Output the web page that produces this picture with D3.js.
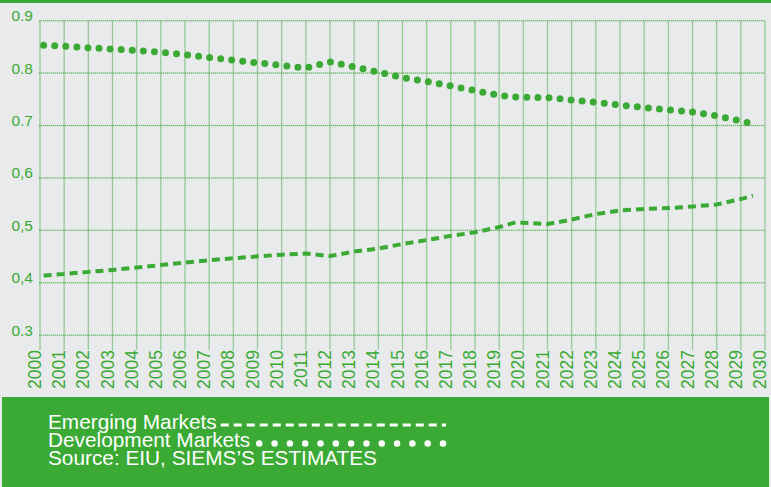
<!DOCTYPE html>
<html>
<head>
<meta charset="utf-8">
<script src="https://cdn.jsdelivr.net/npm/d3@7/dist/d3.min.js"></script>
<style>
  html, body { margin: 0; padding: 0; background: #e9eaec; }
  svg { display: block; }
  text { font-family: "Liberation Sans", Arial, Helvetica, sans-serif; }
</style>
</head>
<body>
<div id="chart"></div>
<script>
// ---- Data ----
const yearTicks = [2000,2001,2002,2003,2004,2005,2006,2007,2008,2009,2010,2011,2012,2013,2014,2015,
                   2016,2017,2018,2019,2020,2021,2022,2023,2024,2025,2026,2027,2028,2029,2030];
const yearTickLabels = ["2000","2001","2002","2003","2004","2005","2006","2007","2008","2009","2010",
                   "2011","2012","2013","2014","2015","2016","2017","2018","2019","2020","2021","2022",
                   "2023","2024","2025","2026","2027","2028","2029","2030"];
const yTickValues = [0.3, 0.4, 0.5, 0.6, 0.7, 0.8, 0.9];
const yTickLabels = ["0.3", "0,4", "0,5", "0,6", "0.7", "0.8", "0.9"];

// x positions of the series points (years)
const seriesYears = [2000.15,2001,2002,2003,2004,2005,2006,2007,2008,2009,2010,2011,2012,2013,2014,2015,
                     2016,2017,2018,2019,2019.7,2020,2021,2022,2023,2024,2025,2026,2027,2028,2029,2029.5];
const emergingMarkets = [0.414,0.4166,0.4208,0.4244,0.429,0.4338,0.4384,0.443,0.4468,0.4504,0.4536,
                         0.4557,0.451,0.4595,0.4653,0.4739,0.4815,0.4895,0.4962,0.5063,0.5155,0.5143,
                         0.512,0.5206,0.5311,0.5378,0.5407,0.5426,0.5454,0.5493,0.5597,0.5664];
const developmentMarkets = [0.853,0.8517,0.8483,0.846,0.843,0.840,0.835,0.830,0.8244,0.8197,0.8145,
                         0.8097,0.8212,0.8116,0.802,0.7916,0.7843,0.7754,0.7668,0.7573,0.7545,0.754,
                         0.7534,0.7487,0.7443,0.7391,0.7344,0.730,0.7258,0.7183,0.7086,0.7029];

const legendLabels = ["Emerging Markets", "Development Markets"];
const sourceText = "Source: EIU, SIEMS\u2019S ESTIMATES";

// ---- Drawing ----
const W = 771, H = 487;
const green = "#3aaa35";
const svg = d3.select("#chart").append("svg").attr("width", W).attr("height", H);

svg.append("rect").attr("width", W).attr("height", H).attr("fill", "#e9eaec");
svg.append("rect").attr("x", 0).attr("y", 0).attr("width", W).attr("height", 3).attr("fill", green);

const x = d3.scaleLinear().domain([2000, 2030]).range([40, 765]);
const y = d3.scaleLinear().domain([0.3, 0.9]).range([335.2, 20.7]);

// grid
const grid = svg.append("g");
yTickValues.forEach(v => {
  grid.append("line").attr("x1", x(2000) - 1).attr("x2", x(2030))
    .attr("y1", y(v)).attr("y2", y(v))
    .attr("stroke", green).attr("stroke-opacity", 0.22).attr("stroke-width", 1.5);
  grid.append("line").attr("x1", x(2000) - 1).attr("x2", x(2030))
    .attr("y1", y(v)).attr("y2", y(v))
    .attr("stroke", green).attr("stroke-opacity", 0.75).attr("stroke-width", 1).attr("stroke-dasharray", "1,1");
});
yearTicks.forEach(t => {
  grid.append("line").attr("x1", x(t)).attr("x2", x(t))
    .attr("y1", y(0.9)).attr("y2", 350)
    .attr("stroke", green).attr("stroke-opacity", 0.22).attr("stroke-width", 1.5);
  grid.append("line").attr("x1", x(t)).attr("x2", x(t))
    .attr("y1", y(0.9)).attr("y2", 350)
    .attr("stroke", green).attr("stroke-opacity", 0.7).attr("stroke-width", 1).attr("stroke-dasharray", "1,1");
});

// y labels
svg.append("g").selectAll("text").data(yTickValues).join("text")
  .attr("x", 33).attr("y", d => y(d) + 0.5)
  .attr("text-anchor", "end")
  .attr("fill", green).attr("font-size", "15.5px")
  .text((d, i) => yTickLabels[i]);

// x labels (rotated)
svg.append("g").selectAll("text").data(yearTicks).join("text")
  .attr("transform", d => `translate(${x(d) + 1},350) rotate(-90)`)
  .attr("text-anchor", "end")
  .attr("fill", green).attr("font-size", "17.5px")
  .text((d, i) => yearTickLabels[i]);

// lines
const line = vals => d3.line()
  .x((d, i) => x(seriesYears[i]))
  .y(d => y(d))
  .curve(d3.curveLinear)(vals);

svg.append("path").attr("d", line(emergingMarkets))
  .attr("fill", "none").attr("stroke", green).attr("stroke-width", 4)
  .attr("stroke-dasharray", "8,5");

svg.append("path").attr("d", line(developmentMarkets))
  .attr("fill", "none").attr("stroke", green).attr("stroke-width", 7)
  .attr("stroke-linecap", "round").attr("stroke-dasharray", "0,11.1");

// legend box
svg.append("rect").attr("x", 2).attr("y", 397).attr("width", 767).attr("height", 90).attr("fill", green);

const fs = 20.8;
const t1 = svg.append("text").attr("x", 48).attr("y", 429).attr("fill", "#fff")
  .attr("font-size", fs + "px").text(legendLabels[0]);
const t2 = svg.append("text").attr("x", 48).attr("y", 447).attr("fill", "#fff")
  .attr("font-size", fs + "px").text(legendLabels[1]);
svg.append("text").attr("x", 48).attr("y", 465).attr("fill", "#fff")
  .attr("font-size", fs + "px").text(sourceText);

const l1 = t1.node().getComputedTextLength();
const l2 = t2.node().getComputedTextLength();
svg.append("line").attr("x1", 48 + l1 + 4).attr("x2", 446)
  .attr("y1", 425).attr("y2", 425)
  .attr("stroke", "#fff").attr("stroke-width", 3).attr("stroke-dasharray", "8,5");
const dotStart = 48 + l2 + 9, dotEnd = 443;
const dotGap = (dotEnd - dotStart) / 12;
svg.append("line").attr("x1", dotStart).attr("x2", dotEnd + 0.5)
  .attr("y1", 443.5).attr("y2", 443.5)
  .attr("stroke", "#fff").attr("stroke-width", 6.5).attr("stroke-linecap", "round")
  .attr("stroke-dasharray", `0,${dotGap}`);
</script>
</body>
</html>
